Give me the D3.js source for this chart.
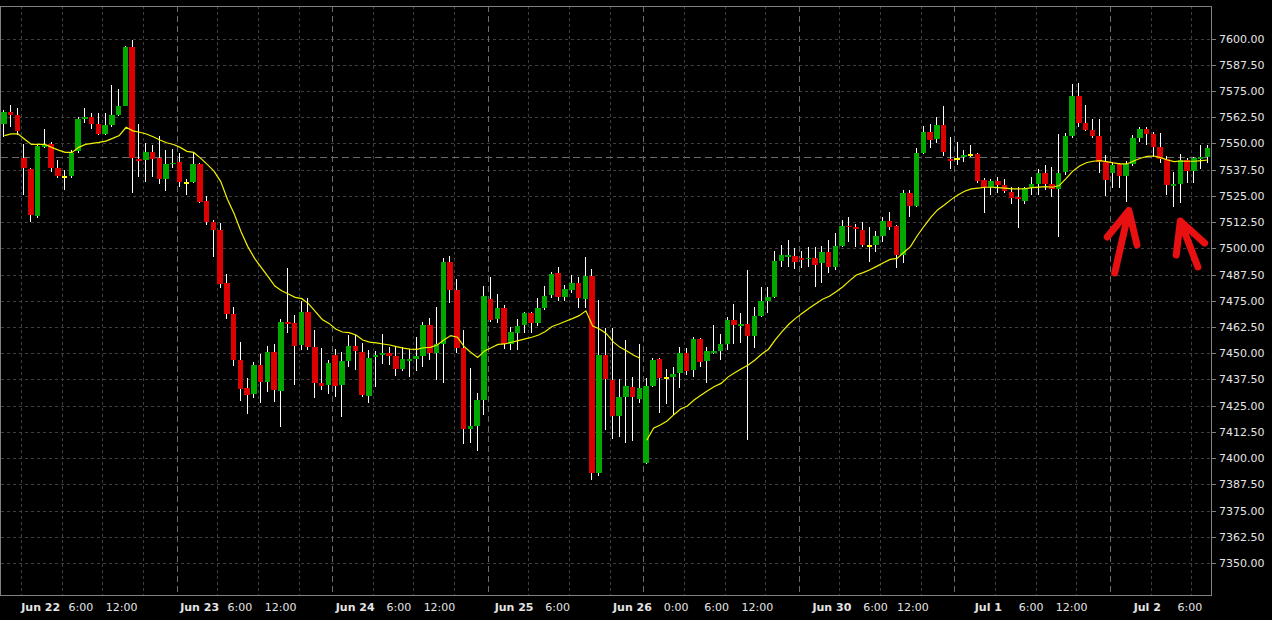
<!DOCTYPE html>
<html><head><meta charset="utf-8">
<script src="https://cdn.jsdelivr.net/npm/d3@7"></script>
<style>html,body{margin:0;padding:0;background:#000;overflow:hidden}</style>
</head><body><svg id="c" width="1272" height="620"></svg>
<script>
// ---- DATA (H1 candles) ----
const opens=[7559.3,7565.1,7563.5,7543.2,7537.8,7515.6,7548.2,7549.7,7538.4,7534.2,
7534.6,7546.5,7561.6,7562.4,7559.2,7554.6,7558.8,7563.5,7568.0,7595.9,
7542.7,7542.2,7545.9,7543.2,7533.0,7540.0,7541.3,7531.3,7531.7,7540.2,
7522.5,7512.7,7508.7,7483.3,7468.7,7446.7,7433.2,7430.5,7444.4,7436.4,
7450.6,7432.1,7464.9,7464.2,7453.9,7469.6,7453.1,7435.9,7434.8,7449.1,
7434.8,7446.4,7453.4,7450.6,7429.8,7448.0,7449.1,7450.1,7448.7,7442.5,
7446.3,7447.2,7448.8,7463.5,7450.3,7454.4,7493.5,7480.1,7452.6,7414.0,
7415.3,7427.7,7475.7,7466.3,7471.6,7454.4,7459.8,7463.4,7469.0,7464.2,
7471.6,7477.7,7488.1,7476.9,7480.1,7483.6,7475.7,7486.8,7393.1,7449.2,
7437.2,7420.1,7429.3,7433.7,7428.2,7397.8,7434.5,7447.2,7438.0,7438.8,
7440.7,7450.0,7442.0,7456.8,7446.3,7450.0,7451.1,7454.4,7465.8,7463.2,
7464.0,7458.4,7467.7,7474.9,7476.6,7494.0,7496.0,7496.3,7495.5,7494.7,
7495.5,7492.8,7498.4,7491.2,7501.2,7510.8,7510.0,7508.7,7501.2,7501.6,
7505.9,7513.0,7510.6,7496.8,7526.2,7520.2,7545.6,7555.6,7551.9,7558.8,
7542.6,7542.6,7543.5,7544.5,7544.9,7532.5,7529.0,7532.1,7530.2,7526.7,
7524.6,7522.7,7529.1,7530.6,7535.7,7530.6,7528.4,7536.5,7553.5,7572.6,
7559.9,7556.4,7553.5,7541.3,7535.7,7540.2,7534.5,7540.2,7552.4,7556.7,
7554.5,7548.4,7542.4,7529.7,7530.6,7542.1,7537.0,7542.7,7543.7];
const highs=[7565.9,7568.3,7566.7,7549.7,7538.2,7549.2,7556.8,7550.5,7542.1,7537.3,
7546.8,7562.4,7566.7,7564.6,7564.3,7564.3,7577.8,7575.8,7596.6,7599.3,
7559.2,7550.0,7549.2,7553.5,7546.8,7547.2,7545.6,7533.0,7545.3,7540.6,
7524.9,7513.5,7511.9,7487.7,7472.2,7455.5,7438.3,7446.0,7449.5,7453.4,
7454.4,7466.3,7490.5,7468.2,7474.9,7476.2,7461.1,7452.3,7446.7,7451.8,
7450.7,7458.7,7458.7,7454.7,7451.5,7451.2,7459.2,7453.1,7453.1,7452.8,
7451.8,7457.9,7465.0,7466.6,7472.2,7495.2,7496.5,7485.2,7461.1,7443.1,
7430.9,7482.0,7486.5,7478.2,7473.0,7462.3,7466.1,7469.8,7469.8,7476.2,
7482.0,7488.7,7490.9,7482.5,7487.3,7486.5,7496.0,7490.0,7475.4,7461.9,
7461.9,7437.5,7456.3,7438.8,7454.4,7438.0,7447.5,7447.6,7442.3,7443.6,
7452.8,7452.3,7457.9,7457.2,7452.8,7463.4,7459.2,7467.4,7473.5,7469.3,
7489.7,7472.2,7481.7,7481.7,7498.9,7501.6,7504.0,7500.0,7498.7,7500.8,
7500.8,7501.1,7504.0,7507.1,7513.5,7515.1,7511.6,7512.7,7510.3,7508.4,
7515.1,7517.1,7511.0,7527.8,7527.8,7547.6,7558.3,7559.2,7562.4,7567.8,
7552.9,7550.8,7546.9,7549.1,7545.6,7533.3,7532.9,7534.1,7532.9,7529.1,
7529.1,7529.1,7533.8,7537.6,7539.7,7538.6,7554.5,7554.8,7578.3,7578.6,
7568.3,7561.5,7561.5,7544.5,7540.8,7540.5,7541.6,7554.0,7558.0,7557.6,
7555.6,7554.8,7544.0,7536.5,7544.9,7542.9,7543.7,7549.2,7549.2];
const lows=[7553.2,7558.0,7554.0,7525.4,7512.7,7514.3,7547.8,7536.5,7533.3,7527.8,
7533.3,7545.6,7559.5,7556.7,7554.0,7554.2,7558.0,7563.1,7567.6,7526.5,
7534.1,7531.7,7534.1,7530.6,7527.5,7538.4,7529.4,7525.4,7530.9,7521.4,
7511.1,7496.0,7480.9,7466.3,7443.9,7427.2,7421.0,7428.8,7426.1,7431.7,
7426.9,7414.7,7459.5,7434.8,7451.5,7451.5,7428.5,7432.5,7430.5,7429.0,
7419.7,7443.2,7442.0,7429.3,7426.1,7434.0,7444.9,7444.4,7439.1,7441.7,
7438.8,7441.7,7443.3,7446.8,7437.2,7436.0,7474.1,7450.0,7406.7,7407.4,
7403.5,7420.5,7465.0,7464.2,7451.9,7451.5,7451.5,7459.8,7459.5,7463.0,
7470.6,7476.2,7475.0,7475.0,7478.9,7471.4,7471.4,7389.6,7391.5,7413.4,
7409.0,7410.2,7407.4,7408.3,7426.4,7397.4,7434.0,7421.7,7425.8,7420.5,
7433.3,7439.6,7438.5,7443.6,7436.0,7449.6,7446.8,7451.5,7454.4,7454.7,
7408.6,7452.3,7467.3,7469.3,7476.2,7491.2,7490.9,7490.0,7490.8,7491.2,
7481.4,7483.6,7488.0,7489.6,7500.8,7503.2,7500.8,7500.5,7493.6,7498.4,
7503.2,7508.7,7490.8,7493.0,7515.1,7519.8,7544.9,7547.6,7550.0,7544.0,
7537.6,7539.7,7541.3,7543.7,7531.3,7517.0,7525.4,7526.5,7526.5,7521.1,
7509.8,7521.1,7525.4,7525.4,7527.8,7524.3,7505.2,7534.9,7552.4,7558.0,
7556.0,7552.4,7536.1,7525.0,7528.6,7528.6,7522.2,7539.2,7550.8,7549.2,
7543.7,7540.5,7525.4,7519.8,7521.4,7531.3,7531.0,7537.6,7540.5];
const closes=[7565.1,7563.7,7556.0,7538.4,7515.9,7548.8,7549.2,7538.4,7534.6,7534.2,
7545.6,7561.6,7562.4,7559.2,7554.6,7558.8,7563.5,7568.0,7595.9,7543.2,
7541.8,7545.9,7542.7,7533.0,7540.2,7540.8,7531.7,7531.3,7540.2,7522.2,
7512.7,7508.7,7483.0,7468.7,7446.7,7432.8,7430.1,7444.4,7436.4,7450.6,
7432.5,7464.9,7463.9,7453.6,7469.6,7453.1,7435.9,7434.4,7445.5,7434.5,
7446.4,7453.4,7451.2,7430.1,7447.7,7449.1,7450.1,7448.7,7442.6,7447.2,
7447.2,7448.8,7463.5,7450.3,7454.4,7493.5,7480.1,7452.6,7414.0,7415.3,
7427.7,7477.3,7465.8,7471.6,7454.4,7460.1,7463.0,7469.0,7464.2,7471.6,
7477.3,7487.8,7476.9,7480.4,7483.6,7476.2,7486.8,7393.1,7449.2,7437.5,
7420.1,7429.3,7434.5,7429.0,7433.6,7434.5,7446.8,7438.3,7438.0,7440.1,
7450.3,7441.7,7456.8,7446.0,7451.1,7451.1,7454.4,7465.8,7463.5,7464.0,
7458.4,7467.7,7474.9,7476.6,7494.0,7496.8,7496.8,7493.6,7494.4,7495.5,
7492.2,7498.4,7491.2,7501.2,7510.8,7510.0,7509.0,7501.6,7501.2,7505.9,
7513.0,7510.0,7496.8,7526.2,7520.2,7545.6,7555.6,7551.6,7558.8,7546.0,
7541.6,7542.6,7544.3,7544.5,7532.2,7529.0,7532.1,7530.2,7527.3,7523.8,
7523.3,7528.6,7530.6,7535.7,7530.6,7528.4,7535.7,7553.5,7572.6,7559.9,
7556.4,7553.5,7541.3,7532.5,7539.7,7534.5,7540.2,7552.4,7556.7,7554.5,
7548.4,7542.4,7530.2,7530.6,7542.1,7537.0,7542.9,7543.7,7547.6];
// moving average (yellow); null = break in the line
const maValues=[7553.7,7554.5,7554.6,7552.0,7549.5,7549.5,7549.5,7548.1,7546.8,7545.7,
7545.7,7548.1,7549.5,7550.0,7550.5,7551.1,7552.4,7553.8,7557.7,7556.0,
7555.3,7554.5,7553.2,7551.6,7550.3,7549.5,7548.1,7546.2,7545.7,7543.0,
7540.0,7536.8,7531.8,7523.3,7516.3,7507.9,7500.8,7495.2,7490.8,7486.5,
7482.0,7479.8,7478.2,7476.6,7476.0,7473.5,7469.8,7466.1,7464.2,7461.5,
7460.1,7459.8,7458.7,7456.3,7455.3,7454.9,7454.4,7453.9,7453.1,7452.4,
7451.9,7451.8,7452.6,7452.8,7453.9,7456.3,7458.4,7457.6,7453.1,7450.3,
7448.0,7451.1,7452.6,7454.2,7454.4,7455.2,7456.0,7456.8,7457.6,7458.7,
7460.3,7462.7,7463.9,7465.2,7466.5,7467.9,7470.2,7463.0,7461.5,7459.4,
7455.5,7452.9,7451.2,7449.1,7447.6,7408.5,7414.2,7415.8,7417.7,7420.7,
7423.4,7424.8,7427.7,7429.9,7432.1,7434.1,7435.6,7438.6,7440.7,7442.6,
7444.4,7446.8,7449.6,7451.9,7456.3,7460.3,7463.8,7466.6,7469.0,7471.4,
7473.6,7475.7,7477.1,7479.3,7481.7,7484.6,7487.3,7488.4,7489.8,7491.4,
7493.1,7494.7,7495.2,7498.0,7500.8,7506.0,7510.5,7514.7,7518.3,7520.6,
7523.2,7525.4,7527.2,7528.3,7528.7,7529.1,7529.1,7528.9,7528.7,7528.3,
7528.3,7528.4,7528.9,7529.2,7529.4,7529.1,7529.9,7533.2,7536.8,7539.2,
7540.8,7541.5,7541.8,7541.3,7540.7,7540.2,7540.2,7541.6,7542.9,7543.8,
7544.0,7543.2,7542.1,7541.3,7541.6,7541.5,7541.5,7541.8,7542.1];
const maBreakAfter=[94];
const bidPrice=7543.5;
const priceTicks=d3.range(7350,7600.01,12.5);
const dayStartBars=[3,26,49,72,95,118,141,164];
const separatorBars=[26,49,72,95,118,141,164];
const timeLabels=[
 {t:"Jun 22",b:3,d:1},{t:"6:00",b:10,d:0},{t:"12:00",b:15.5,d:0},
 {t:"Jun 23",b:26.5,d:1},{t:"6:00",b:33.5,d:0},{t:"12:00",b:39,d:0},
 {t:"Jun 24",b:49.5,d:1},{t:"6:00",b:57,d:0},{t:"12:00",b:62.5,d:0},
 {t:"Jun 25",b:73,d:1},{t:"6:00",b:80.5,d:0},
 {t:"Jun 26",b:90.5,d:1},{t:"0:00",b:98,d:0},{t:"6:00",b:104,d:0},{t:"12:00",b:109.5,d:0},
 {t:"Jun 30",b:120,d:1},{t:"6:00",b:127.5,d:0},{t:"12:00",b:132.5,d:0},
 {t:"Jul 1",b:144,d:1},{t:"6:00",b:150.5,d:0},{t:"12:00",b:156,d:0},
 {t:"Jul 2",b:167.5,d:1},{t:"6:00",b:174,d:0}];
// annotation arrows: [bar, price] points
const arrows=[
 {tail:[164.2,7488.2],tip:[166.3,7518.0],left:[163.1,7505.4],right:[167.5,7501.6]},
 {tail:[176.5,7491.1],tip:[173.9,7513.0],left:[173.3,7496.8],right:[177.5,7502.5]}];

// ---- LAYOUT ----
const W=1272,H=620, L=1, R=1211.4, T=6, B=595;
const n=opens.length;
const svg=d3.select("#c");
svg.append("rect").attr("width",W).attr("height",H).attr("fill","#000");
const x=d3.scaleBand().domain(d3.range(n)).range([L,R]).padding(0);
const step=x.step();
const xc=d3.scaleLinear().domain([0,n-1]).range([x(0)+step/2,x(n-1)+step/2]);
const xl=d3.scaleLinear().domain([0,n-1]).range([x(0),x(n-1)]);
const y=d3.scaleLinear().domain([7350,7600]).range([563,38.5]);
const FONT="'DejaVu Sans', Verdana, sans-serif";

const g=svg.append("g");
// horizontal grid
g.selectAll(".hg").data(priceTicks).join("line")
 .attr("x1",L).attr("x2",R).attr("y1",d=>Math.round(y(d))+0.5).attr("y2",d=>Math.round(y(d))+0.5)
 .attr("stroke","#3f3f3f").attr("stroke-dasharray","3,3");
// vertical grid
const gridBars=[];
dayStartBars.forEach((s,k)=>{const e=k+1<dayStartBars.length?dayStartBars[k+1]:n;
 for(let b=s;b<e;b+=6){ if(!separatorBars.includes(b)) gridBars.push(b);} });
g.selectAll(".vg").data(gridBars).join("line")
 .attr("x1",d=>Math.round(x(d))+0.5).attr("x2",d=>Math.round(x(d))+0.5).attr("y1",T).attr("y2",B)
 .attr("stroke","#3f3f3f").attr("stroke-dasharray","3,3");
g.selectAll(".sep").data(separatorBars).join("line")
 .attr("x1",d=>Math.round(x(d))+0.5).attr("x2",d=>Math.round(x(d))+0.5).attr("y1",T).attr("y2",B)
 .attr("stroke","#6a6a6a").attr("stroke-dasharray","6,4");
// bid line
g.append("line").attr("x1",L).attr("x2",R).attr("y1",Math.round(y(bidPrice))+0.5).attr("y2",Math.round(y(bidPrice))+0.5)
 .attr("stroke","#6a6a6a").attr("stroke-dasharray","7,4");

// candles
const idx=d3.range(n);
const cg=svg.append("g").attr("shape-rendering","crispEdges");
cg.selectAll(".wick").data(idx).join("line")
 .attr("x1",i=>Math.floor(x(i)+2.7)+0.5).attr("x2",i=>Math.floor(x(i)+2.7)+0.5)
 .attr("y1",i=>y(highs[i])).attr("y2",i=>y(lows[i]))
 .attr("stroke","#ffffff").attr("stroke-width",1);
cg.selectAll(".body").data(idx.filter(i=>opens[i]!==closes[i])).join("rect")
 .attr("x",i=>Math.round(x(i)))
 .attr("width",i=>Math.round(x(i)+5.5)-Math.round(x(i)))
 .attr("y",i=>y(Math.max(opens[i],closes[i])))
 .attr("height",i=>Math.max(1,Math.abs(y(opens[i])-y(closes[i]))))
 .attr("fill",i=>closes[i]>opens[i]?"#00a800":"#dd0000");
cg.selectAll(".doji").data(idx.filter(i=>opens[i]===closes[i])).join("rect")
 .attr("x",i=>Math.round(x(i)))
 .attr("width",i=>Math.round(x(i)+5.5)-Math.round(x(i)))
 .attr("y",i=>Math.round(y(closes[i]))-1).attr("height",2)
 .attr("fill","#ffff00");

// moving average
const line=d3.line().defined(d=>d.v!=null).x(d=>xc(d.i)).y(d=>y(d.v));
const maPts=[];
maValues.forEach((v,i)=>{maPts.push({i,v}); if(maBreakAfter.includes(i)) maPts.push({i:i+0.5,v:null});});
svg.append("path").attr("d",line(maPts)).attr("fill","none").attr("stroke","#f2f200").attr("stroke-width",1.2);

// border
svg.append("rect").attr("x",0.5).attr("y",T+0.5).attr("width",R-0.5+0.5).attr("height",B-T)
 .attr("fill","none").attr("stroke","#808080").attr("shape-rendering","crispEdges");

// right axis
const ax=svg.append("g");
ax.selectAll(".tk").data(priceTicks).join("line")
 .attr("x1",R+0.5).attr("x2",R+4.5).attr("y1",d=>Math.round(y(d))+0.5).attr("y2",d=>Math.round(y(d))+0.5)
 .attr("stroke","#808080").attr("shape-rendering","crispEdges");
ax.selectAll(".tl").data(priceTicks).join("text")
 .attr("x",1219).attr("y",d=>y(d)+4).text(d=>d3.format(".2f")(d))
 .attr("fill","#e4e4e4").attr("font-family",FONT).attr("font-size","11px");

// bottom axis
svg.selectAll(".xl").data(timeLabels).join("text")
 .attr("x",d=>xl(d.b)).attr("y",610.5).text(d=>d.t)
 .attr("fill","#e4e4e4").attr("font-family",FONT).attr("font-size","11px")
 .attr("font-weight",d=>d.d?"bold":"normal");

// annotation arrows
const P=p=>[xc(p[0]),y(p[1])];
svg.selectAll(".arr").data(arrows).join("path")
 .attr("d",a=>{const t=P(a.tip),s=P(a.tail),l=P(a.left),r=P(a.right);
   return `M${s}L${t}M${l}L${t}L${r}`;})
 .attr("fill","none").attr("stroke","#e81010").attr("stroke-width",7)
 .attr("stroke-linecap","round").attr("stroke-linejoin","round");
</script></body></html>
